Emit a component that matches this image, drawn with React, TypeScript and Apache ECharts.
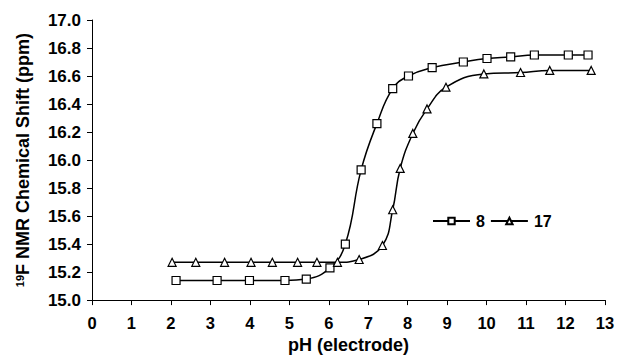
import React, { useEffect, useRef } from "react";
import * as echarts from "echarts";

const seriesNames = ["8", "17"];
const ph8 = [2.13, 3.17, 3.99, 4.89, 5.43, 6.03, 6.42, 6.82, 7.22, 7.62, 8.02, 8.62, 9.41, 10.01, 10.61, 11.21, 12.07, 12.57];
const shift8 = [15.14, 15.14, 15.14, 15.14, 15.15, 15.23, 15.4, 15.93, 16.26, 16.51, 16.6, 16.66, 16.7, 16.725, 16.737, 16.75, 16.75, 16.75];
const ph17 = [2.03, 2.63, 3.36, 4.03, 4.57, 5.21, 5.7, 6.22, 6.77, 7.36, 7.62, 7.81, 8.13, 8.49, 8.97, 9.93, 10.86, 11.6, 12.65];
const shift17 = [15.27, 15.27, 15.27, 15.27, 15.27, 15.27, 15.27, 15.27, 15.29, 15.39, 15.645, 15.94, 16.19, 16.365, 16.52, 16.615, 16.625, 16.64, 16.64];

const xMin = 0, xMax = 13, xStep = 1;
const yMin = 15, yMax = 17, yStep = 0.2;

export default function App() {
  const ref = useRef<HTMLDivElement>(null);
  useEffect(() => {
    if (!ref.current) return;
    const chart = echarts.init(ref.current, null, { renderer: "svg" });
    const font = "Liberation Sans, Arial, sans-serif";
    const mk = (name: string, xs: number[], ys: number[], symbol: string, size: number) => ({
      name,
      type: "line",
      data: xs.map((x, i) => [x, ys[i]]),
      smooth: 0.45,
      symbol,
      symbolSize: size,
      showAllSymbol: true,
      lineStyle: { color: "#000", width: 1.5 },
      itemStyle: { color: "#fff", borderColor: "#000", borderWidth: 1.2 },
      emphasis: { disabled: true },
      z: 3,
    });
    chart.setOption({
      animation: false,
      backgroundColor: "#fff",
      textStyle: { fontFamily: font },
      grid: { left: 92, right: 16, top: 20, bottom: 58, containLabel: false },
      legend: {
        data: seriesNames,
        left: 432,
        top: 213,
        padding: 0,
        itemGap: 5,
        itemWidth: 37,
        itemHeight: 8,
        textStyle: { fontSize: 16, fontWeight: "bold", color: "#000", fontFamily: font, padding: [0, 0, 0, 1] },
      },
      xAxis: {
        type: "value",
        min: xMin,
        max: xMax,
        interval: xStep,
        name: "pH (electrode)",
        nameLocation: "middle",
        nameGap: 35,
        nameTextStyle: { fontSize: 18, fontWeight: "bold", color: "#000", fontFamily: font },
        axisLine: { show: true, onZero: false, lineStyle: { color: "#000", width: 1 } },
        axisTick: { show: true, inside: false, length: 5, lineStyle: { color: "#000" } },
        axisLabel: { fontSize: 16.5, fontWeight: "bold", color: "#000", margin: 14, fontFamily: font },
        splitLine: { show: false },
      },
      yAxis: {
        type: "value",
        min: yMin,
        max: yMax,
        interval: yStep,
        name: "{sup|19}{main|F NMR Chemical Shift (ppm)}",
        nameLocation: "middle",
        nameGap: 60,
        nameTextStyle: {
          fontSize: 18,
          fontWeight: "bold",
          color: "#000",
          fontFamily: font,
          rich: {
            sup: { fontSize: 11, fontWeight: "bold", color: "#000", fontFamily: font, verticalAlign: "top", lineHeight: 18, padding: [0, 0, 7, 0] },
            main: { fontSize: 18, fontWeight: "bold", color: "#000", fontFamily: font, lineHeight: 18 },
          },
        },
        axisLine: { show: true, lineStyle: { color: "#000", width: 1 } },
        axisTick: { show: true, inside: false, length: 5, lineStyle: { color: "#000" } },
        axisLabel: {
          fontSize: 17,
          fontWeight: "bold",
          color: "#000",
          margin: 11,
          fontFamily: font,
          formatter: (v: number) => v.toFixed(1),
        },
        splitLine: { show: false },
      },
      series: [
        mk(seriesNames[0], ph8, shift8, "rect", 8),
        mk(seriesNames[1], ph17, shift17, "triangle", 8),
      ],
    });
    return () => chart.dispose();
  }, []);
  return <div ref={ref} style={{ width: 621, height: 359, position: "absolute", left: 0, top: 0 }} />;
}
